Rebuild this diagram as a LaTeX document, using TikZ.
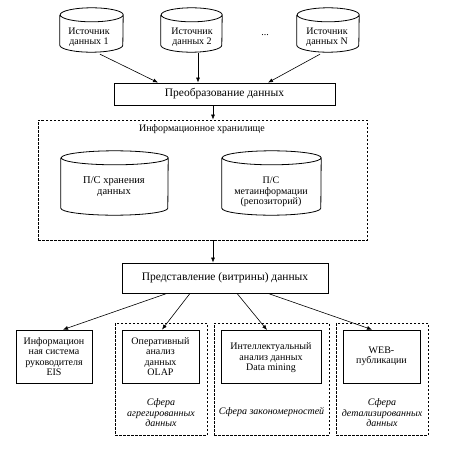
\documentclass[tikz,border=0pt]{standalone}
\usepackage{fontspec}
\setmainfont{Liberation Serif}
\usetikzlibrary{arrows.meta}
\newcommand\mycyl[3]{%
\draw[line width=0.8pt] ([yshift=-#3]#1.north west) -- ([yshift=#3]#1.south west)
  arc[start angle=180,end angle=360,x radius=#2,y radius=#3]
  -- ([yshift=-#3]#1.north east)
  arc[start angle=0,end angle=360,x radius=#2,y radius=#3];}
\begin{document}
\begin{tikzpicture}[x=1pt,y=-1pt,
  every node/.style={font=\fontsize{10}{10.5}\selectfont, align=center, inner sep=0pt},
  cylbox/.style={draw=none, minimum width=#1, minimum height=44pt},
  box/.style={draw, line width=0.8pt},
  big/.style={font=\fontsize{11.5}{12}\selectfont},
  group/.style={draw, line width=0.8pt, dash pattern=on 2.5pt off 1.5pt},
  arr/.style={-{Latex[length=5pt,width=4pt]}, line width=0.6pt},
  lbl/.style={font=\fontsize{10}{10.5}\selectfont\itshape}]
\useasboundingbox (0,0) rectangle (474,466);
\fill[white] (0,0) rectangle (474,466);
% sources
\node[cylbox=63pt] (src1) at (91.5,30) {};
\node[cylbox=61pt] (src2) at (191.5,30) {};
\node[cylbox=62pt] (srcN) at (328,30) {};
\mycyl{src1}{31.5pt}{7pt}
\mycyl{src2}{30.5pt}{7pt}
\mycyl{srcN}{31pt}{7pt}
\node (t1) at (89,37) {Источник\\данных 1};
\node (t2) at (192,37) {Источник\\данных 2};
\node (tN) at (327,37) {Источник\\данных N};
\node (dots) at (265,35) {...};
% transformation
\node[box, big, minimum width=221pt, minimum height=22pt] (trans) at (224.5,94) {Преобразование данных};
\draw[arr] ([xshift=8.5pt,yshift=-2pt]src1.south) -- ([xshift=-66.5pt]trans.north);
\draw[arr] ([xshift=6.5pt,yshift=-1pt]src2.south) -- ([xshift=-26.5pt]trans.north);
\draw[arr] ([xshift=-8pt,yshift=-2pt]srcN.south) -- ([xshift=43.5pt]trans.north);
% storage
\node[group, minimum width=329pt, minimum height=120pt] (store) at (202.5,180) {};
\node (stitle) at (202,129) {Информационное хранилище};
\node[draw=none, minimum width=107pt, minimum height=64pt] (s1) at (114.5,183) {};
\node[draw=none, minimum width=99pt, minimum height=64pt] (s2) at (271.5,183) {};
\mycyl{s1}{53.5pt}{7pt}
\mycyl{s2}{49.5pt}{7pt}
\node[font=\fontsize{10.5}{11}\selectfont] (s1t) at (114,187) {П/С хранения\\данных};
\node (s2t) at (271,192) {П/С\\метаинформации\\(репозиторий)};
\draw[arr] ([xshift=-11.5pt]trans.south) -- ([xshift=10.5pt]store.north);
% presentation
\node[box, big, minimum width=206pt, minimum height=30pt] (pres) at (225,278) {Представление (витрины) данных};
\draw[arr] ([xshift=10.5pt]store.south) -- ([xshift=-12pt]pres.north);
% bottom
\node[box, minimum width=76pt, minimum height=53pt] (eis) at (54,356.5) {Информацион\\ная система\\руководителя\\EIS};
\node[group, minimum width=92pt, minimum height=112pt] (g1) at (161,379) {};
\node[group, minimum width=115pt, minimum height=112pt] (g2) at (271.5,379) {};
\node[group, minimum width=92pt, minimum height=112pt] (g3) at (382,379) {};
\node[box, minimum width=77pt, minimum height=53pt] (b1) at (160.5,356.5) {Оперативный\\анализ\\данных\\OLAP};
\node[box, minimum width=100pt, minimum height=53pt, anchor=north] (b2) at (271,330) {\rule{0pt}{9pt}Интеллектуальный\\анализ данных\\Data mining};
\node[box, minimum width=77pt, minimum height=53pt] (b3) at (381.5,356.5) {WEB-\\публикации};
\node[lbl] (l1) at (161,413) {Сфера\\агрегированных\\данных};
\node[lbl] (l2) at (271.5,412) {Сфера закономерностей};
\node[lbl] (l3) at (382,413) {Сфера\\детализированных\\данных};
\draw[arr] ([xshift=-58pt]pres.south) -- ([xshift=9pt]eis.north);
\draw[arr] ([xshift=-35pt]pres.south) -- ([xshift=1.5pt]b1.north);
\draw[arr] ([xshift=12pt]pres.south) -- ([xshift=-4pt]b2.north);
\draw[arr] ([xshift=43pt]pres.south) -- ([xshift=-9.5pt]b3.north);
\end{tikzpicture}
\end{document}
